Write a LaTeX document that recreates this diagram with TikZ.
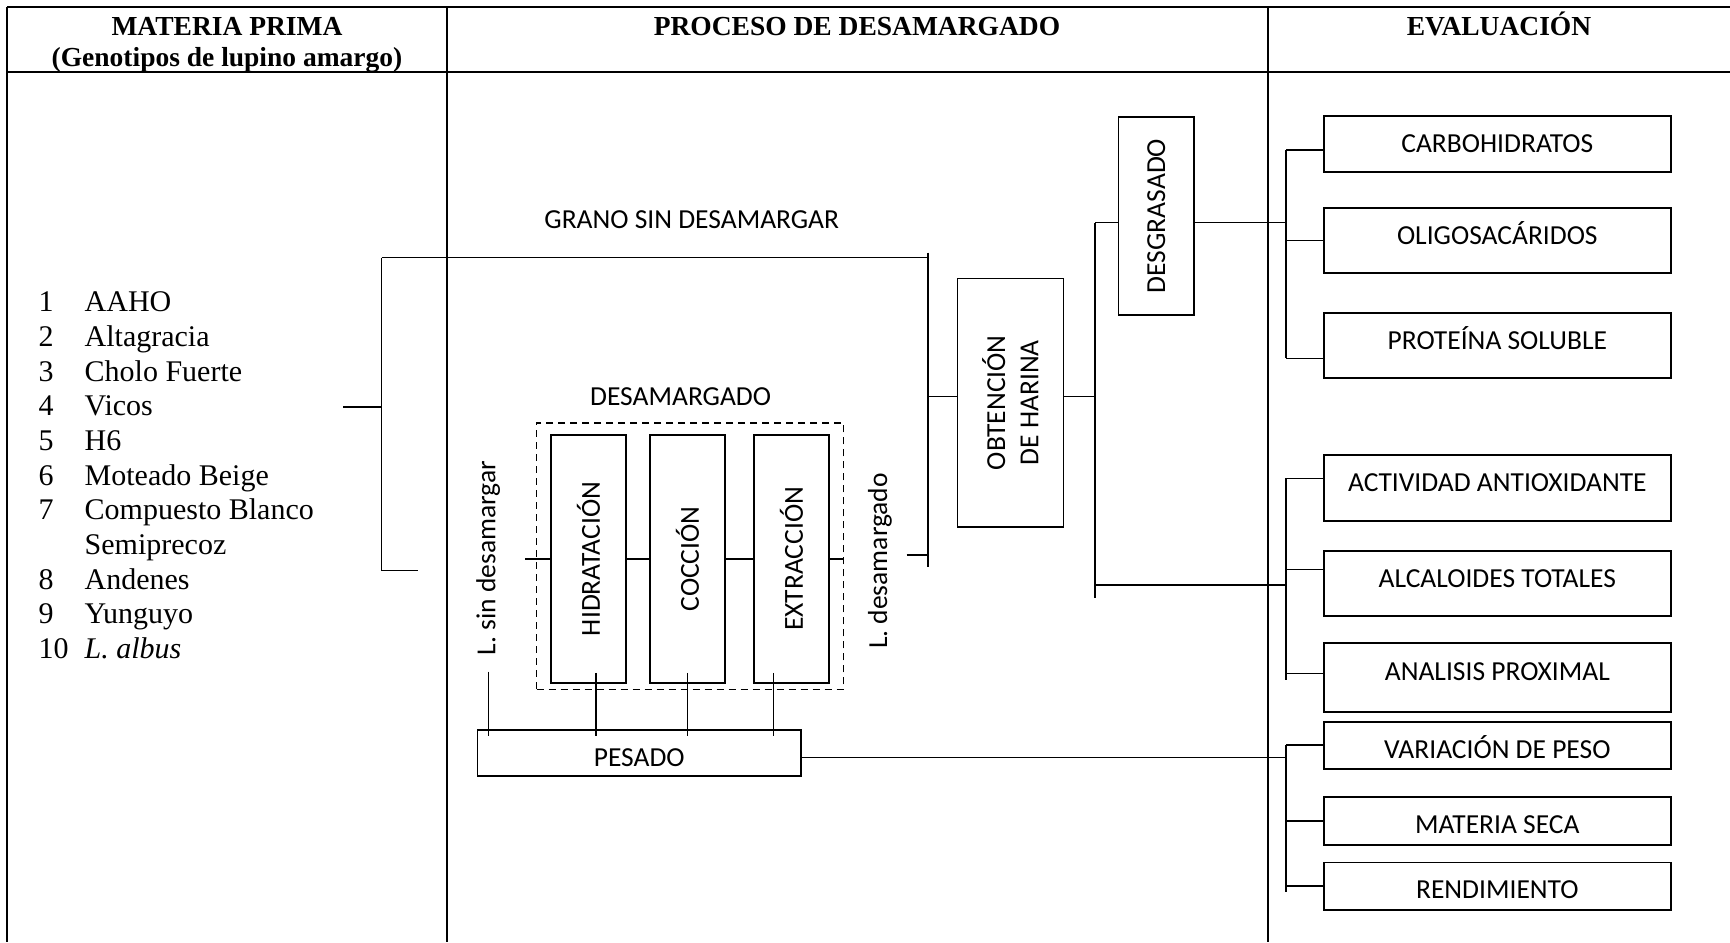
\documentclass[tikz,border=0pt]{standalone}
\usepackage{fontspec}
\setmainfont{Liberation Serif}
\newfontfamily\calibri{Carlito}
\usetikzlibrary{positioning}

\begin{document}
\begin{tikzpicture}[
    x=0.4pt, y=-0.4pt,
    line width=0.55pt,
    font=\calibri\fontsize{11}{13.3}\selectfont,
    head/.style={font=\rmfamily\bfseries\fontsize{11}{12.65}\selectfont,
                 inner sep=0pt, anchor=base},
    frame/.style={line width=0.8pt},
    box/.style={draw, rectangle, line width=0.65pt, inner sep=0pt,
                outer sep=0pt, align=center},
    stage/.style={box, rotate=90, minimum width=99.1pt, minimum height=30pt},
    group/.style={draw, dash pattern=on 2.8pt off 2pt, line width=0.6pt,
                  outer sep=0pt, minimum width=122.8pt, minimum height=106.6pt},
    evalbox/.style={box, minimum width=138.7pt, text height=7pt, text depth=0pt},
    tall/.style={text depth=4pt},
    short/.style={text height=10.2pt},
    vlabel/.style={rotate=90, inner sep=0pt}]
  \useasboundingbox (0,0) rectangle (1730,942);

  % table
  \draw[frame] (7,7) -- (1730,7);
  \draw[frame] (7,72) -- (1730,72);
  \draw[frame] (7,7) -- (7,942);
  \draw[frame] (446.5,7) -- (446.5,942);
  \draw[frame] (1268,7) -- (1268,942);
  \node[head] (hmp) at (227,35.5) {MATERIA PRIMA};
  \node[head] (hgen) at (227,66) {(Genotipos de lupino amargo)};
  \node[head] (hproc) at (857,35) {PROCESO DE DESAMARGADO};
  \node[head] (heval) at (1499,35) {EVALUACIÓN};

  % materia prima
  \node[anchor=base west, inner sep=0pt,
        font=\rmfamily\fontsize{12}{13.87}\selectfont] (geno) at (38,311.7) {%
    \begin{tabular}[t]{@{}l@{\hspace{6.4pt}}l@{}}
      1 & AAHO\\ 2 & Altagracia\\ 3 & Cholo Fuerte\\ 4 & Vicos\\ 5 & H6\\
      6 & Moteado Beige\\ 7 & Compuesto Blanco\\ & Semiprecoz\\ 8 & Andenes\\
      9 & Yunguyo\\ 10 & \textit{L. albus}
    \end{tabular}};
  \coordinate (mpin) at (343,407);
  \coordinate (btop) at (381.5,257.5);
  \coordinate (bbot) at (381.5,570.7);
  \draw (mpin) -- (mpin -| btop);
  \draw (btop) -- (bbot);
  \draw (bbot) -- ++(36.5,0);

  % desamargado
  \node[stage] (hid) at (588.5,558.9) {HIDRATACIÓN};
  \node[stage] (coc) at (687.5,558.9) {COCCIÓN};
  \node[stage] (ext) at (791.5,558.9) {EXTRACCIÓN};
  \node[group] (desam) at (690.1,556) {};
  \node[above=6.4pt of desam, xshift=-3.8pt, inner sep=0pt] (ldesam) {DESAMARGADO};
  \draw (hid) -- (coc);
  \draw (coc) -- (ext);
  \draw[shorten >=-4.5pt] (hid.north) -- (hid.north -| desam.west);
  \draw (ext.south) -- (ext.south -| desam.east);

  \node[box, minimum width=129.5pt, minimum height=18.4pt,
        text height=11pt, text depth=0pt] (pes) at (639.2,753) {PESADO};
  \node[vlabel] (lsin) at (488.3,558) {L. sin desamargar};
  \draw[shorten <=6.4pt, shorten >=-2.4pt] (lsin.west) -- (lsin.west |- pes.north);
  \coordinate (hp) at ([xshift=3pt]hid.west);
  \coordinate (cp) at (coc.west);
  \coordinate (ep) at ([xshift=-7.3pt]ext.west);
  \draw[shorten <=-4pt, shorten >=-2.4pt] (hp) -- (hp |- pes.north);
  \draw[shorten <=-4pt, shorten >=-2.4pt] (cp) -- (cp |- pes.north);
  \draw[shorten <=-4pt, shorten >=-2.4pt] (ep) -- (ep |- pes.north);

  % grano sin desamargar
  \coordinate (gtop) at (928,252.5);
  \coordinate (gbot) at (928,566.7);
  \draw (gtop) -- (gbot);
  \draw (btop) -- (btop -| gtop);
  \node[inner sep=0pt] (grano) at (691.7,220) {GRANO SIN DESAMARGAR};
  \node[vlabel] (ldes) at (880,561) {L. desamargado};
  \coordinate (ldin) at (906.5,555);
  \draw (ldin) -- (ldin -| gtop);

  % harina
  \node[box, rotate=90, minimum width=99.3pt, minimum height=42.4pt]
    (obt) at (1010.3,402.7) {OBTENCIÓN\\DE HARINA};
  \node[box, rotate=90, minimum width=79.2pt, minimum height=30.3pt]
    (desg) at (1156.2,216) {DESGRASADO};
  \coordinate (obin) at (928,396.4);
  \coordinate (htop) at (1095,222.5);
  \coordinate (hbot) at (1095,597.5);
  \draw (obin) -- (obin -| obt.north);
  \draw (obt.south |- obin) -- (obin -| htop);
  \draw (htop) -- (hbot);
  \draw (htop) -- (htop -| desg.north);

  % evaluacion
  \node[evalbox, minimum height=22.3pt] (carbo) at (1497.3,143.9) {CARBOHIDRATOS};
  \node[evalbox, tall, minimum height=26pt, below=14.6pt of carbo] (oligo) {OLIGOSACÁRIDOS};
  \node[evalbox, tall, minimum height=26pt, below=15.8pt of oligo] (prot) {PROTEÍNA SOLUBLE};
  \node[evalbox, tall, minimum height=26.3pt, below=30.9pt of prot] (act) {ACTIVIDAD ANTIOXIDANTE};
  \node[evalbox, tall, minimum height=26pt, below=12pt of act] (alc) {ALCALOIDES TOTALES};
  \node[evalbox, text depth=5pt, minimum height=27.4pt, below=11pt of alc] (anal) {ANALISIS PROXIMAL};
  \node[evalbox, short, minimum height=19pt, below=4pt of anal] (var) {VARIACIÓN DE PESO};
  \node[evalbox, short, minimum height=19pt, below=11.2pt of var] (mat) {MATERIA SECA};
  \node[evalbox, short, minimum height=18.9pt, below=7.1pt of mat] (rend) {RENDIMIENTO};

  \coordinate (e1top) at (1286,150);
  \coordinate (e1bot) at (1286,358.3);
  \draw (desg.south |- htop) -- (htop -| e1top);
  \draw (e1top) -- (e1bot);
  \draw (e1top) -- (e1top -| carbo.west);
  \draw (e1top |- oligo.west) -- (oligo.west);
  \draw (e1bot) -- (e1bot -| prot.west);

  \coordinate (e2top) at (1286,478.3);
  \coordinate (e2mid) at (1286,569.3);
  \coordinate (e2an) at (1286,673.3);
  \coordinate (e2bot) at (1286,680);
  \coordinate (hlow) at (1095,585);
  \draw (hlow) -- (hlow -| e2top);
  \draw (e2top) -- (e2bot);
  \draw (e2top) -- (e2top -| act.west);
  \draw (e2mid) -- (e2mid -| alc.west);
  \draw (e2an) -- (e2an -| anal.west);

  \coordinate (e3top) at (1286,745);
  \coordinate (e3bot) at (1286,891.7);
  \coordinate (pesout) at ([yshift=-1.8pt]pes.east);
  \draw (pesout) -- (pesout -| e3top);
  \draw (e3top) -- (e3bot);
  \draw (e3top) -- (e3top -| var.west);
  \draw (e3top |- mat.west) -- (mat.west);
  \draw (e3top |- rend.west) -- (rend.west);
\end{tikzpicture}
\end{document}
